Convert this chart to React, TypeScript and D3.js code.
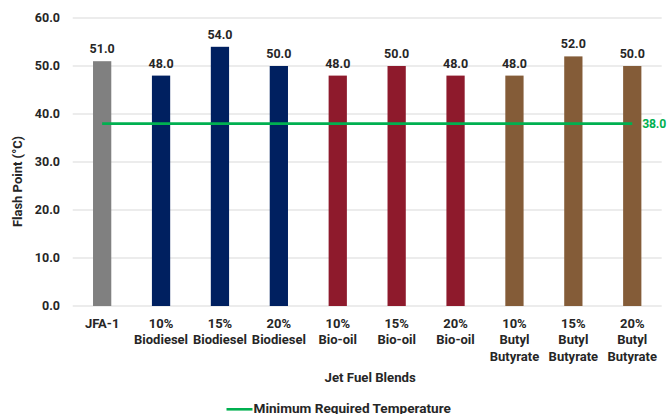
import React from "react";
import * as d3 from "d3";

const categories: string[][] = [
  ["JFA-1"],
  ["10%", "Biodiesel"],
  ["15%", "Biodiesel"],
  ["20%", "Biodiesel"],
  ["10%", "Bio-oil"],
  ["15%", "Bio-oil"],
  ["20%", "Bio-oil"],
  ["10%", "Butyl", "Butyrate"],
  ["15%", "Butyl", "Butyrate"],
  ["20%", "Butyl", "Butyrate"],
];
const flashPoints: number[] = [51, 48, 54, 50, 48, 50, 48, 48, 52, 50];
const groups: string[] = ["base", "bd", "bd", "bd", "bo", "bo", "bo", "bb", "bb", "bb"];
const minRequired = 38;
const yTicks: number[] = [0, 10, 20, 30, 40, 50, 60];

const groupColor: Record<string, string> = {
  base: "#808080",
  bd: "#002060",
  bo: "#8e1a2c",
  bb: "#845c38",
};

const W = 667;
const H = 414;
const FONT = "Roboto, 'DejaVu Sans', sans-serif";
const TEXT = "#262626";
const GREEN = "#00b050";

export default function App() {
  const left = 72.7;
  const right = 661.7;
  const top = 18;
  const bottom = 306;

  const keys = categories.map((_, i) => String(i));
  const x = d3.scaleBand<string>().domain(keys).range([left, right]).paddingInner(0.69).paddingOuter(0.345);
  const y = d3.scaleLinear().domain([0, 60]).range([bottom, top]);
  const firstC = (x(keys[0]) ?? 0) + x.bandwidth() / 2;
  const lastC = (x(keys[keys.length - 1]) ?? 0) + x.bandwidth() / 2;
  const plotMid = (left + right) / 2;
  const fmt = d3.format(".1f");

  return (
    <svg
      width={W}
      height={H}
      style={{ position: "absolute", left: 0, top: 0, background: "#fff" }}
      fontFamily={FONT}
      fontWeight="bold"
    >
      {yTicks.map((t) => (
        <g key={t}>
          <line x1={left} x2={right} y1={y(t)} y2={y(t)} stroke="#e6e6e6" strokeWidth={1.3} />
          <text x={60} y={y(t) + 4.3} textAnchor="end" fontSize={12.5} fill={TEXT}>
            {fmt(t)}
          </text>
        </g>
      ))}

      {flashPoints.map((v, i) => {
        const bx = x(keys[i]) ?? 0;
        return (
          <g key={i}>
            <rect x={bx} y={y(v)} width={x.bandwidth()} height={y(0) - y(v)} fill={groupColor[groups[i]]} />
            <text x={bx + x.bandwidth() / 2} y={y(v) - 8} textAnchor="middle" fontSize={12.5} fill={TEXT}>
              {fmt(v)}
            </text>
          </g>
        );
      })}

      <line x1={firstC} x2={lastC} y1={y(minRequired)} y2={y(minRequired)} stroke={GREEN} strokeWidth={2.6} />
      <text x={lastC + 10} y={y(minRequired) + 4.5} fontSize={12.2} letterSpacing={-0.2} fill={GREEN}>
        {fmt(minRequired)}
      </text>

      {categories.map((lines, i) => (
        <text key={i} textAnchor="middle" fontSize={13} fill={TEXT}>
          {lines.map((ln, j) => (
            <tspan key={j} x={(x(keys[i]) ?? 0) + x.bandwidth() / 2} y={327.5 + j * 16.5}>
              {ln}
            </tspan>
          ))}
        </text>
      ))}

      <text transform="translate(22,181.5) rotate(-90)" textAnchor="middle" fontSize={13} fill={TEXT}>
        Flash Point (°C)
      </text>

      <text x={plotMid + 3} y={381.5} textAnchor="middle" fontSize={13.2} fill={TEXT}>
        Jet Fuel Blends
      </text>

      <line x1={226.5} x2={252.5} y1={409.3} y2={409.3} stroke={GREEN} strokeWidth={2.6} />
      <text x={253.5} y={412.5} fontSize={13.6} fill={TEXT}>
        Minimum Required Temperature
      </text>
    </svg>
  );
}
